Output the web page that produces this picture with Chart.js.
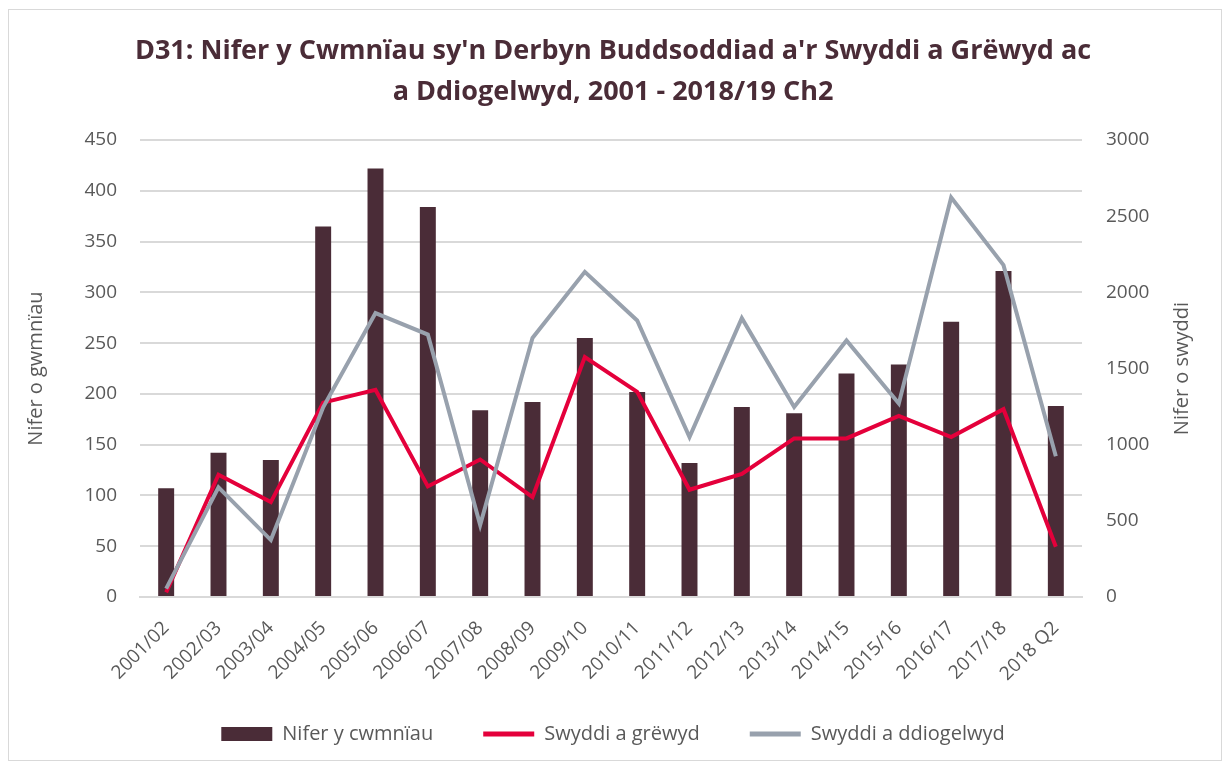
<!DOCTYPE html>
<html>
<head>
<meta charset="utf-8">
<script src="https://cdn.jsdelivr.net/npm/chart.js@4/dist/chart.umd.min.js"></script>
<style>
  html, body { margin: 0; padding: 0; background: #fff; }
  #wrap { position: absolute; left: 8px; top: 9px; width: 1214px; height: 752px; border: 1px solid #d9d9d9; box-sizing: border-box; }
  #frame { position: absolute; left: 0; top: 0; width: 1226px; height: 766px; }
</style>
</head>
<body>
<div id="wrap"></div>
<div id="frame"><canvas id="chart" width="1226" height="766"></canvas></div>
<script>
const years = ["2001/02", "2002/03", "2003/04", "2004/05", "2005/06", "2006/07", "2007/08", "2008/09", "2009/10",
  "2010/11", "2011/12", "2012/13", "2013/14", "2014/15", "2015/16", "2016/17", "2017/18", "2018 Q2"];
const companies = [107, 142, 135, 365, 422, 384, 184, 192, 255, 202, 132, 187, 181, 220, 229, 271, 321, 188];
const jobsCreated = [30, 803, 623, 1276, 1360, 726, 903, 656, 1576, 1347, 704, 808, 1041, 1041, 1189, 1050, 1233, 330];
const jobsSafeguarded = [55, 720, 374, 1245, 1864, 1723, 473, 1701, 2135, 1816, 1050, 1831, 1248, 1684, 1270, 2623, 2179, 924];

const maroon = "#4a2c37";
const red = "#e4003b";
const grey = "#98a1ad";
const tickColor = "#595959";
const font = "'Open Sans', sans-serif";

// right axis title reads bottom-to-top, like the left one
const rightTitle = {
  id: "rightTitle",
  afterDraw(chart) {
    const { ctx, chartArea } = chart;
    ctx.save();
    ctx.translate(1182, (chartArea.top + chartArea.bottom) / 2);
    ctx.rotate(-Math.PI / 2);
    ctx.fillStyle = tickColor;
    ctx.font = "20px " + font;
    ctx.textAlign = "center";
    ctx.textBaseline = "middle";
    ctx.fillText("Nifer o swyddi", 0, 0);
    ctx.restore();
  },
};

const ctx = document.getElementById("chart").getContext("2d");

new Chart(ctx, {
  type: "bar",
  data: {
    labels: years,
    datasets: [
      {
        label: "Nifer y cwmnïau",
        data: companies,
        backgroundColor: maroon,
        yAxisID: "y",
        barPercentage: 0.61,
        categoryPercentage: 0.5,
        order: 3,
      },
      {
        type: "line",
        label: "Swyddi a grëwyd",
        data: jobsCreated,
        borderColor: red,
        backgroundColor: red,
        borderWidth: 4,
        pointRadius: 0,
        tension: 0,
        yAxisID: "y1",
        order: 2,
      },
      {
        type: "line",
        label: "Swyddi a ddiogelwyd",
        data: jobsSafeguarded,
        borderColor: grey,
        backgroundColor: grey,
        borderWidth: 4,
        pointRadius: 0,
        tension: 0,
        yAxisID: "y1",
        order: 1,
      },
    ],
  },
  options: {
    responsive: false,
    animation: false,
    layout: { padding: { left: 20, right: 20, top: 31, bottom: 12 } },
    plugins: {
      title: {
        display: true,
        text: ["D31: Nifer y Cwmnïau sy'n Derbyn Buddsoddiad a'r Swyddi a Grëwyd ac", "a Ddiogelwyd, 2001 - 2018/19 Ch2"],
        color: maroon,
        font: { family: font, size: 27, weight: "bold", lineHeight: 1.52 },
        padding: { top: 0, bottom: 27 },
      },
      legend: {
        position: "bottom",
        labels: {
          color: tickColor,
          font: { family: font, size: 20 },
          usePointStyle: true,
          boxWidth: 51,
          boxHeight: 14,
          pointStyleWidth: 51,
          padding: 10,
          generateLabels: (chart) => {
            const items = Chart.defaults.plugins.legend.labels.generateLabels(chart);
            items.sort((a, b) => a.datasetIndex - b.datasetIndex);
            items.forEach((it) => {
              const bar = it.datasetIndex === 0;
              it.pointStyle = bar ? "rect" : "line";
              it.lineWidth = bar ? 0 : 5;
              it.fillStyle = bar ? maroon : it.strokeStyle;
              // em spaces widen the gap between legend entries
              if (it.datasetIndex < 2) it.text = it.text + "\u2003\u2003";
            });
            return items;
          },
        },
      },
      tooltip: { enabled: false },
    },
    scales: {
      x: {
        grid: { display: false },
        border: { color: "#d9d9d9", width: 2 },
        ticks: {
          color: tickColor,
          font: { family: font, size: 19 },
          minRotation: 45,
          maxRotation: 45,
          padding: 12,
        },
        afterFit: (scale) => { scale.height = 117; },
      },
      y: {
        position: "left",
        min: 0,
        max: 450,
        ticks: { stepSize: 50, color: tickColor, font: { family: font, size: 19 }, padding: 23 },
        grid: { color: "#d9d9d9", lineWidth: 2, drawTicks: false },
        border: { display: false },
        title: { display: true, text: "Nifer o gwmnïau", color: tickColor, font: { family: font, size: 20 }, padding: 4 },
        afterFit: (scale) => { scale.width = 120; },
      },
      y1: {
        position: "right",
        min: 0,
        max: 3000,
        ticks: { stepSize: 500, color: tickColor, font: { family: font, size: 19 }, padding: 16, callback: (v) => String(v) },
        grid: { display: false },
        border: { display: false },
        afterFit: (scale) => { scale.width = 124; },
      },
    },
  },
  plugins: [rightTitle],
});
</script>
</body>
</html>
